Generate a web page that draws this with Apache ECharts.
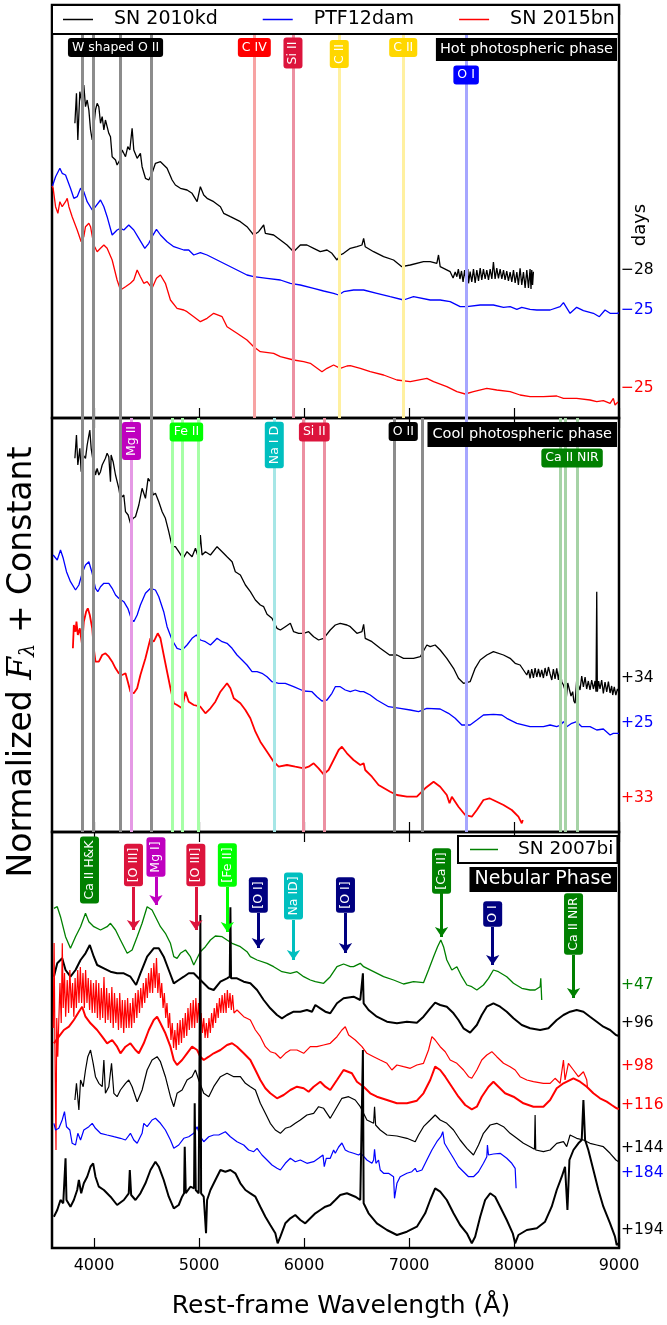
<!DOCTYPE html>
<html>
<head>
<meta charset="utf-8">
<script src="https://cdn.jsdelivr.net/npm/echarts@6/dist/echarts.min.js"></script>
<style>
  html, body { margin: 0; padding: 0; background: #fff; }
  #chart { width: 667px; height: 1325px; }
</style>
</head>
<body>
<div id="chart"></div>
<script>
// ---- data: wavelength (A), normalized flux + constant ----
var xTicks = [4000, 5000, 6000, 7000, 8000, 9000];

// Hot photospheric phase
var kdHot = [[3818,29.47],[3833,32.47],[3846,27.8],[3865,32.63],[3887,31.47],[3903,33.3],[3919,31.13],[3935,31.8],[3951,30.8],[3967,28.8],[3983,27.8],[3998,29.13],[4014,30.8],[4030,31.47],[4046,31.13],[4062,29.47],[4078,30.13],[4094,28.8],[4109,29.8],[4125,29.13],[4141,28.47],[4157,28.13],[4173,26.13],[4205,25.8],[4220,25.3],[4246,25.8],[4268,26.8],[4300,26.13],[4322,27.13],[4341,26.8],[4363,28.97],[4379,26.8],[4411,25.97],[4442,26.47],[4458,25.13],[4490,23.97],[4522,23.8],[4553,24.47],[4585,25.47],[4633,25.63],[4696,24.97],[4744,23.8],[4775,23.3],[4823,22.97],[4886,22.8],[4934,22.47],[4982,21.63],[5013,23.13],[5045,22.3],[5077,21.97],[5140,21.63],[5204,21.13],[5235,20.47],[5299,20.13],[5394,19.63],[5457,19.13],[5521,18.3],[5568,18.63],[5616,19.3],[5632,18.47],[5711,18.3],[5775,17.8],[5838,17.3],[5901,16.63],[5965,17.3],[6028,17.3],[6092,16.97],[6155,16.63],[6219,16.8],[6266,16.47],[6314,15.8],[6345,16.3],[6377,16.47],[6441,16.97],[6504,17.13],[6552,17.3],[6568,17.97],[6583,17.13],[6663,16.63],[6758,16.13],[6853,15.8],[6932,15.13],[7012,15.3],[7138,15.63],[7202,15.63],[7265,15.47],[7281,16.3],[7297,15.13],[7392,14.63],[7420,14.0],[7440,14.6],[7456,14.13],[7470,14.9],[7485,13.9],[7500,14.7],[7515,13.6],[7530,14.8],[7545,13.5],[7560,14.9],[7567,13.47],[7582,14.63],[7598,13.6],[7614,14.9],[7630,13.5],[7646,14.8],[7662,13.7],[7678,15.0],[7693,13.8],[7709,14.9],[7725,13.9],[7741,14.8],[7757,13.8],[7773,14.9],[7789,13.9],[7804,15.6],[7820,13.9],[7836,15.0],[7852,13.97],[7868,14.9],[7884,13.9],[7900,14.8],[7915,13.8],[7931,14.7],[7947,13.7],[7963,14.6],[7979,13.6],[7995,14.8],[8011,13.5],[8027,14.6],[8042,13.3],[8058,14.97],[8074,13.3],[8090,14.6],[8106,13.0],[8122,14.8],[8138,13.0],[8153,14.9],[8162,12.9],[8169,14.8],[8177,13.3],[8185,14.63]];
var pfHot = [[3602,23.13],[3634,24.13],[3675,24.97],[3697,24.47],[3729,24.3],[3745,24.13],[3776,22.97],[3808,21.97],[3840,22.13],[3872,22.97],[3903,22.63],[3935,21.63],[3983,20.8],[4014,21.13],[4062,21.8],[4094,21.13],[4125,20.13],[4173,18.3],[4220,18.8],[4252,18.97],[4284,18.8],[4331,19.3],[4379,18.8],[4427,17.97],[4484,16.97],[4522,17.47],[4553,18.13],[4595,18.87],[4633,18.3],[4696,17.63],[4760,17.13],[4855,16.8],[4902,16.8],[4950,16.3],[5013,16.53],[5077,16.3],[5172,15.8],[5267,15.3],[5362,14.8],[5457,14.3],[5521,14.13],[5648,13.97],[5775,13.8],[5870,13.47],[5965,13.3],[6092,12.97],[6187,12.7],[6282,12.47],[6330,12.3],[6377,12.63],[6472,12.8],[6568,12.8],[6694,12.47],[6821,12.13],[6948,11.8],[7043,12.13],[7202,11.8],[7297,11.8],[7392,11.63],[7487,11.13],[7551,11.13],[7678,11.3],[7804,11.3],[7900,11.07],[7963,11.13],[8027,10.87],[8074,11.07],[8153,10.87],[8217,10.8],[8344,10.8],[8439,11.13],[8471,11.53],[8534,10.47],[8597,11.07],[8661,10.73],[8756,10.47],[8813,10.13],[8867,10.8],[8915,10.47],[8978,10.47],[9000,10.5]];
var bnHot = [[3600,23.2],[3611,22.97],[3634,21.13],[3656,20.47],[3675,21.63],[3697,21.13],[3729,21.63],[3745,21.97],[3761,21.13],[3792,20.13],[3840,18.8],[3878,17.63],[3903,18.13],[3919,19.13],[3951,19.47],[3967,19.13],[3998,17.3],[4030,16.63],[4062,16.97],[4094,17.3],[4125,16.97],[4173,15.8],[4220,13.8],[4252,12.8],[4300,13.13],[4347,13.47],[4379,13.8],[4411,14.8],[4442,14.13],[4474,13.47],[4506,13.63],[4553,12.97],[4595,13.97],[4633,14.3],[4680,13.47],[4728,11.8],[4791,10.97],[4855,10.8],[4886,10.63],[4950,10.13],[5013,9.63],[5077,9.97],[5140,10.47],[5220,10.13],[5267,9.13],[5362,8.47],[5457,7.8],[5521,7.13],[5584,6.63],[5711,6.47],[5775,6.13],[5901,5.8],[5997,5.63],[6060,5.47],[6171,4.63],[6219,4.97],[6282,5.3],[6345,4.97],[6409,5.2],[6441,5.23],[6536,4.97],[6631,4.63],[6758,4.3],[6885,3.8],[7012,3.63],[7170,3.97],[7234,3.63],[7360,3.13],[7456,2.63],[7535,2.4],[7614,2.63],[7741,2.97],[7836,2.8],[7963,2.63],[8058,2.3],[8153,2.13],[8280,2.13],[8407,2.2],[8471,1.97],[8597,1.97],[8724,1.8],[8788,1.63],[8851,1.73],[8915,1.47],[8946,1.97],[8962,1.3],[8990,1.6]];

// Cool photospheric phase
var kdCool = [[3818,37.37],[3833,39.7],[3846,36.7],[3865,38.37],[3878,36.03],[3897,37.7],[3919,37.37],[3935,38.7],[3960,40.2],[3973,38.37],[3992,37.03],[4014,35.7],[4030,36.37],[4046,35.7],[4062,36.03],[4078,36.7],[4109,37.37],[4125,37.87],[4141,37.53],[4157,35.03],[4163,37.7],[4182,37.03],[4205,35.7],[4236,34.37],[4252,33.37],[4284,33.7],[4300,32.03],[4325,31.7],[4347,30.87],[4373,31.37],[4395,31.53],[4427,32.7],[4458,34.37],[4490,33.37],[4515,35.37],[4538,35.03],[4563,33.7],[4585,33.87],[4617,33.03],[4649,32.03],[4680,31.37],[4712,30.03],[4744,28.53],[4775,28.53],[4807,28.03],[4848,27.37],[4886,28.03],[4934,27.53],[4966,28.37],[4997,27.37],[5013,29.7],[5029,27.7],[5061,28.03],[5109,27.7],[5172,28.53],[5220,28.03],[5267,27.53],[5315,27.03],[5346,26.03],[5394,25.7],[5442,24.7],[5489,24.03],[5537,23.2],[5584,22.7],[5616,22.53],[5648,21.77],[5695,21.37],[5743,20.37],[5775,20.2],[5822,20.53],[5870,20.87],[5901,20.03],[5949,19.87],[5997,19.87],[6044,20.03],[6092,19.53],[6139,19.2],[6187,19.37],[6250,20.2],[6298,20.7],[6345,20.87],[6409,20.7],[6441,20.53],[6504,19.87],[6552,20.03],[6568,20.77],[6583,19.37],[6647,19.03],[6726,18.37],[6815,17.7],[6885,17.7],[6948,17.37],[7043,17.37],[7107,17.53],[7170,18.7],[7202,18.53],[7249,18.7],[7297,18.2],[7360,17.37],[7424,16.37],[7471,15.37],[7519,14.87],[7582,15.03],[7630,16.37],[7678,17.2],[7741,17.7],[7804,18.03],[7900,17.7],[7963,17.37],[8011,16.87],[8058,16.7],[8122,15.7],[8138,16.2],[8153,15.37],[8169,16.3],[8185,15.4],[8201,16.4],[8217,15.5],[8233,16.3],[8249,15.5],[8264,16.2],[8280,15.4],[8296,16.4],[8312,15.6],[8328,16.5],[8344,15.8],[8360,15.2],[8375,16.3],[8391,15.3],[8407,16.37],[8423,15.2],[8439,16.5],[8455,15.0],[8471,14.7],[8486,14.2],[8496,13.2],[8512,14.9],[8528,14.7],[8543,13.6],[8559,14.03],[8570,13.1],[8582,12.87],[8597,15.2],[8613,15.03],[8629,14.2],[8645,15.6],[8661,14.5],[8677,15.5],[8692,14.3],[8708,15.1],[8724,14.2],[8740,15.2],[8756,14.3],[8772,15.1],[8781,14.03],[8788,24.03],[8794,14.03],[8806,15.1],[8819,14.3],[8835,15.2],[8851,13.87],[8867,15.0],[8883,14.0],[8899,15.03],[8915,13.9],[8930,14.6],[8940,13.7],[8955,14.5],[8970,13.7],[8985,14.3],[9000,14.0]];
var pfCool = [[3611,27.7],[3650,27.2],[3681,28.2],[3707,27.37],[3738,26.03],[3776,25.03],[3824,24.2],[3856,24.7],[3887,25.87],[3919,26.7],[3951,27.03],[3983,25.87],[4014,24.37],[4036,24.03],[4062,24.53],[4094,24.87],[4141,24.87],[4173,24.37],[4205,23.7],[4236,23.37],[4284,23.03],[4322,22.37],[4354,21.37],[4379,21.03],[4411,21.7],[4442,22.7],[4490,23.87],[4538,24.37],[4585,24.2],[4617,23.53],[4664,22.03],[4696,20.53],[4744,19.2],[4791,18.37],[4839,18.2],[4886,18.7],[4934,19.37],[4975,19.7],[5013,19.2],[5061,19.03],[5109,18.7],[5140,19.03],[5172,19.37],[5220,19.03],[5267,18.87],[5315,18.37],[5362,17.7],[5410,17.2],[5457,16.7],[5505,16.03],[5553,16.03],[5600,15.87],[5648,15.53],[5695,15.03],[5759,14.87],[5822,14.87],[5901,14.53],[5997,14.1],[6076,14.03],[6123,13.53],[6171,13.1],[6219,13.2],[6266,13.87],[6298,14.53],[6345,14.53],[6393,14.2],[6441,14.03],[6488,14.2],[6536,14.03],[6568,14.03],[6631,13.7],[6694,13.2],[6805,12.53],[6916,12.37],[7012,12.2],[7091,12.03],[7170,12.37],[7297,12.3],[7376,11.87],[7440,11.37],[7503,10.7],[7582,10.7],[7646,11.2],[7709,11.7],[7804,11.77],[7884,11.7],[7931,11.37],[8027,10.87],[8153,10.53],[8280,10.53],[8344,10.7],[8407,10.53],[8445,10.7],[8471,11.03],[8502,10.53],[8550,10.87],[8597,11.03],[8645,10.53],[8724,10.53],[8788,10.2],[8851,10.3],[8915,9.7],[8946,9.87],[9000,9.87]];
var bnCool = [[3799,18.37],[3808,20.7],[3824,20.03],[3833,21.03],[3846,19.7],[3865,20.37],[3878,19.37],[3887,18.7],[3903,21.03],[3925,22.03],[3941,22.37],[3960,21.7],[3983,20.37],[3998,18.37],[4014,17.03],[4046,17.03],[4078,17.7],[4109,17.87],[4141,17.53],[4173,17.03],[4205,16.37],[4236,15.87],[4268,15.7],[4300,15.87],[4322,15.03],[4347,14.03],[4379,13.87],[4411,14.37],[4442,15.7],[4490,17.37],[4538,19.37],[4569,19.03],[4607,19.87],[4633,19.37],[4664,17.7],[4696,16.03],[4728,14.37],[4760,12.87],[4791,12.7],[4839,12.37],[4871,14.03],[4902,13.03],[4950,12.7],[5013,12.53],[5061,11.87],[5109,12.37],[5156,13.03],[5204,14.03],[5267,14.87],[5299,14.37],[5331,13.37],[5394,12.87],[5442,12.2],[5489,11.37],[5537,10.03],[5584,9.03],[5648,8.03],[5711,7.03],[5759,6.53],[5838,6.7],[5917,6.53],[5997,6.37],[6044,6.53],[6092,6.87],[6139,6.37],[6187,5.77],[6234,6.2],[6282,7.2],[6330,8.2],[6361,8.53],[6409,7.87],[6472,7.2],[6536,6.7],[6552,6.53],[6568,6.87],[6583,6.2],[6647,5.53],[6710,4.7],[6821,4.03],[6885,3.7],[6980,3.53],[7075,3.53],[7154,4.37],[7234,5.03],[7297,4.53],[7360,3.7],[7386,2.87],[7408,3.53],[7471,2.53],[7535,1.7],[7598,1.53],[7646,2.2],[7709,3.2],[7766,3.37],[7836,3.03],[7900,2.7],[7979,2.2],[8042,1.53],[8074,0.87],[8084,1.2]];

// Nebular phase
var bi47 = [[3618,33.97],[3650,34.13],[3681,33.13],[3729,31.13],[3776,29.97],[3824,31.13],[3872,32.13],[3919,33.47],[3951,32.63],[3998,32.13],[4062,31.8],[4125,32.13],[4157,32.47],[4205,31.8],[4252,30.8],[4316,29.47],[4363,29.8],[4411,31.13],[4458,32.47],[4506,34.13],[4553,33.8],[4585,33.13],[4633,32.13],[4680,31.47],[4728,30.47],[4760,29.13],[4791,28.97],[4823,29.47],[4871,29.8],[4918,29.13],[4950,28.3],[4982,28.97],[5013,29.63],[5061,30.13],[5109,30.8],[5156,31.2],[5220,31.13],[5267,30.8],[5315,30.47],[5394,30.13],[5457,29.63],[5489,29.13],[5553,28.8],[5648,28.47],[5711,28.13],[5790,27.63],[5870,27.47],[5933,27.63],[5997,27.13],[6060,26.8],[6108,26.63],[6187,26.47],[6250,27.13],[6314,28.13],[6377,28.4],[6441,28.13],[6472,28.13],[6536,28.47],[6568,28.13],[6663,27.63],[6758,27.13],[6853,26.8],[6948,26.4],[7043,26.63],[7138,26.53],[7186,27.8],[7234,29.13],[7272,30.13],[7303,30.8],[7329,30.13],[7360,28.8],[7408,27.8],[7456,28.13],[7503,27.13],[7551,26.3],[7598,26.13],[7646,25.8],[7709,26.3],[7757,26.97],[7804,27.8],[7852,27.63],[7931,27.13],[7995,26.47],[8074,25.97],[8153,25.8],[8201,25.8],[8249,26.13],[8255,26.97],[8264,24.8]];
var kd96 = [[3618,27.13],[3650,28.47],[3697,28.97],[3729,27.8],[3776,27.13],[3824,27.8],[3872,28.8],[3919,29.47],[3960,30.3],[3998,29.13],[4030,28.3],[4094,27.97],[4157,27.63],[4220,27.47],[4284,27.47],[4347,27.13],[4401,26.3],[4442,27.47],[4506,29.13],[4569,29.97],[4617,29.97],[4664,29.13],[4712,27.8],[4760,26.47],[4807,26.8],[4855,27.13],[4902,27.47],[4950,27.47],[4997,26.97],[5045,26.47],[5093,25.97],[5140,25.8],[5204,26.63],[5267,26.97],[5293,27.13],[5299,34.07],[5305,26.97],[5362,26.97],[5426,26.63],[5489,26.47],[5553,25.8],[5616,24.8],[5679,23.97],[5743,23.3],[5790,22.97],[5838,23.3],[5901,23.63],[5965,23.63],[6028,23.8],[6076,23.63],[6108,24.3],[6155,23.97],[6203,23.63],[6250,23.47],[6314,24.47],[6377,24.97],[6472,25.13],[6536,24.8],[6555,24.73],[6561,27.47],[6568,24.47],[6615,23.8],[6694,23.13],[6790,22.63],[6885,22.47],[6980,22.63],[7075,22.53],[7138,23.13],[7202,23.97],[7249,24.53],[7297,24.3],[7360,24.13],[7424,23.47],[7471,22.8],[7519,21.97],[7582,21.53],[7646,22.3],[7693,23.3],[7741,24.13],[7804,24.47],[7868,24.13],[7931,23.63],[7995,22.97],[8074,22.3],[8153,21.97],[8249,21.8],[8328,21.97],[8407,22.8],[8471,23.3],[8534,23.63],[8597,23.8],[8661,23.63],[8724,23.13],[8788,22.63],[8851,22.13],[8915,21.8],[8971,21.3],[9000,21.2]];
var bn98 = [[3612,22.0],[3620,30.5],[3628,20.0],[3638,9.8],[3645,23.0],[3655,19.13],[3665,22.8],[3676,26.5],[3688,22.5],[3698,30.47],[3707,24.0],[3719,27.5],[3730,23.13],[3745,26.8],[3758,23.5],[3770,27.8],[3784,24.0],[3796,26.5],[3808,23.13],[3820,27.0],[3832,24.0],[3845,27.8],[3857,24.5],[3870,28.1],[3882,24.5],[3895,27.5],[3908,24.0],[3920,27.8],[3933,24.5],[3945,27.0],[3958,23.8],[3970,26.8],[3983,23.5],[3995,26.5],[4008,23.5],[4020,26.8],[4033,23.0],[4045,26.5],[4058,22.8],[4070,26.0],[4083,23.0],[4095,27.1],[4108,22.5],[4120,26.0],[4133,22.8],[4145,25.5],[4158,22.5],[4170,26.1],[4183,22.0],[4195,25.5],[4208,22.5],[4220,25.0],[4233,21.8],[4245,25.5],[4258,22.0],[4270,24.8],[4283,21.5],[4295,24.8],[4308,22.0],[4320,25.0],[4333,22.0],[4345,24.5],[4358,22.0],[4370,25.0],[4383,22.5],[4395,25.5],[4408,23.0],[4420,25.8],[4433,23.5],[4445,26.0],[4458,24.0],[4470,26.5],[4483,24.5],[4495,27.0],[4508,25.0],[4520,27.5],[4533,25.5],[4545,28.0],[4558,25.5],[4570,28.5],[4583,26.0],[4595,29.0],[4608,25.5],[4620,27.5],[4633,25.0],[4645,26.5],[4658,24.0],[4670,25.5],[4683,23.0],[4695,24.5],[4708,22.0],[4720,23.5],[4733,20.8],[4745,22.5],[4758,20.0],[4770,21.8],[4783,19.8],[4795,22.5],[4808,20.3],[4820,22.8],[4833,20.5],[4845,23.0],[4858,21.0],[4870,23.5],[4883,21.2],[4895,24.0],[4908,21.8],[4920,24.5],[4933,22.0],[4945,24.8],[4958,22.0],[4970,25.0],[4983,22.5],[4995,24.5],[5008,22.0],[5020,23.5],[5033,21.5],[5045,23.0],[5058,21.0],[5070,22.5],[5083,21.0],[5095,23.0],[5108,21.5],[5120,23.5],[5133,22.0],[5145,24.0],[5158,22.5],[5170,24.5],[5183,23.0],[5195,25.0],[5208,23.5],[5220,25.3],[5233,23.5],[5245,25.5],[5258,23.5],[5270,25.8],[5283,24.0],[5295,25.5],[5308,23.8],[5320,25.3],[5333,23.5],[5362,23.8],[5426,23.13],[5489,22.8],[5537,21.8],[5584,21.13],[5632,20.13],[5679,19.63],[5727,19.47],[5775,18.97],[5822,19.47],[5870,19.8],[5933,19.8],[5997,19.47],[6060,20.13],[6123,20.13],[6187,20.3],[6250,20.47],[6314,21.13],[6361,21.8],[6393,22.13],[6425,21.3],[6488,20.8],[6552,20.13],[6599,19.47],[6663,19.13],[6726,18.8],[6790,18.47],[6837,17.8],[6885,18.3],[6948,18.13],[7012,17.97],[7075,18.3],[7138,18.47],[7186,19.8],[7218,21.13],[7249,20.8],[7297,20.13],[7345,19.63],[7392,18.8],[7456,18.47],[7519,17.8],[7567,17.13],[7598,16.97],[7646,17.8],[7693,18.8],[7741,19.3],[7789,19.63],[7836,19.13],[7900,18.47],[7963,18.13],[8011,17.8],[8058,17.13],[8122,16.8],[8185,16.63],[8280,16.47],[8344,16.47],[8391,16.97],[8439,16.47],[8471,18.8],[8486,16.8],[8518,18.47],[8566,17.8],[8613,17.13],[8661,17.63],[8693,16.8],[8699,16.13]];
var bn116 = [[3618,20.47],[3665,21.13],[3713,21.8],[3761,22.13],[3808,22.8],[3856,23.63],[3887,24.13],[3919,23.13],[3967,22.47],[4030,21.8],[4078,21.13],[4125,20.47],[4173,20.8],[4220,20.13],[4252,19.47],[4300,20.13],[4347,20.47],[4395,19.8],[4427,19.47],[4474,20.47],[4522,21.8],[4569,22.8],[4601,23.13],[4633,22.47],[4680,21.47],[4728,20.13],[4760,18.8],[4791,18.3],[4839,18.8],[4886,19.47],[4934,20.13],[4982,19.8],[5013,19.13],[5045,18.8],[5093,19.13],[5140,19.47],[5204,19.8],[5267,20.3],[5315,20.47],[5362,20.13],[5426,19.47],[5489,18.8],[5537,17.8],[5584,16.8],[5632,15.97],[5679,15.47],[5743,14.97],[5806,15.3],[5870,15.8],[5933,16.13],[5997,15.97],[6044,15.63],[6092,16.13],[6155,16.63],[6203,16.13],[6250,15.8],[6314,16.8],[6377,17.8],[6456,17.47],[6504,16.63],[6568,16.13],[6631,15.47],[6694,15.13],[6790,14.8],[6885,14.47],[6980,14.47],[7075,14.73],[7138,15.47],[7202,16.8],[7249,18.13],[7297,17.8],[7345,17.13],[7408,16.13],[7471,15.13],[7535,14.3],[7598,13.87],[7646,14.13],[7693,15.13],[7757,16.13],[7804,16.63],[7852,16.13],[7915,15.47],[7995,15.13],[8090,14.47],[8185,14.13],[8280,14.13],[8344,14.8],[8407,15.97],[8471,16.47],[8566,16.97],[8629,16.63],[8693,16.13],[8756,15.47],[8819,14.97],[8883,14.63],[8930,14.3],[8978,13.97],[9000,13.9]];
var kd144 = [[3818,14.8],[3833,16.47],[3856,13.8],[3872,16.8],[3897,16.13],[3919,17.8],[3941,19.13],[3967,19.8],[3992,18.47],[4014,17.13],[4046,16.47],[4078,16.13],[4094,18.8],[4109,15.47],[4141,16.13],[4167,18.47],[4189,15.47],[4220,15.13],[4252,15.8],[4300,16.47],[4331,16.8],[4363,16.13],[4411,14.63],[4458,15.8],[4506,17.8],[4553,18.8],[4601,19.13],[4633,18.63],[4680,17.13],[4728,15.13],[4760,14.13],[4791,15.47],[4839,15.8],[4886,16.8],[4934,17.13],[4966,17.8],[4997,16.8],[5045,15.47],[5093,15.13],[5140,16.13],[5204,17.13],[5267,17.47],[5331,17.13],[5394,17.13],[5442,16.47],[5489,16.13],[5537,15.8],[5584,14.47],[5632,13.47],[5679,12.47],[5727,11.8],[5775,11.47],[5822,11.97],[5870,12.13],[5917,12.47],[5965,12.8],[6028,13.3],[6092,13.47],[6139,14.13],[6187,13.97],[6250,12.97],[6314,14.13],[6361,14.97],[6425,15.13],[6488,14.8],[6536,14.13],[6599,12.8],[6663,12.47],[6672,14.13],[6682,12.3],[6726,11.8],[6790,11.3],[6885,11.2],[6980,10.97],[7059,10.63],[7091,11.3],[7138,12.13],[7202,12.8],[7249,13.3],[7297,12.8],[7360,12.47],[7424,11.8],[7487,10.8],[7551,9.97],[7614,9.3],[7662,10.3],[7709,11.47],[7773,12.3],[7836,12.47],[7900,12.13],[7963,11.47],[8027,10.97],[8090,10.47],[8153,10.13],[8195,9.87],[8201,13.3],[8207,9.8],[8280,9.63],[8344,9.8],[8407,10.47],[8471,10.63],[8502,10.13],[8534,11.3],[8597,10.97],[8661,10.8],[8724,10.47],[8788,10.3],[8851,10.13],[8915,9.47],[8971,8.8],[9000,8.6]];
var pf184 = [[3618,12.47],[3634,11.8],[3665,11.97],[3697,12.8],[3719,13.63],[3738,12.13],[3770,11.8],[3792,10.47],[3824,10.3],[3846,11.47],[3872,10.8],[3903,11.8],[3951,12.13],[3983,12.47],[4014,11.97],[4062,11.47],[4125,11.3],[4189,11.13],[4252,10.97],[4300,10.8],[4347,11.47],[4379,10.8],[4411,10.47],[4458,11.47],[4474,12.47],[4506,12.13],[4553,12.8],[4585,12.97],[4633,12.47],[4680,11.8],[4728,10.8],[4760,9.97],[4807,10.3],[4855,10.97],[4902,11.13],[4950,11.47],[4982,12.13],[5013,11.13],[5045,10.63],[5093,11.13],[5140,11.3],[5188,11.3],[5251,11.63],[5299,11.13],[5362,10.63],[5426,10.3],[5473,9.8],[5521,9.63],[5553,9.97],[5600,9.3],[5648,8.8],[5695,8.3],[5743,7.97],[5775,7.8],[5822,8.47],[5870,8.97],[5917,8.63],[5965,8.8],[6028,8.47],[6092,8.63],[6139,8.97],[6181,9.3],[6193,8.13],[6212,8.97],[6250,8.97],[6282,9.8],[6298,9.47],[6330,10.1],[6361,10.5],[6393,9.8],[6425,9.63],[6472,9.47],[6520,9.3],[6542,9.47],[6599,8.8],[6647,8.47],[6663,8.8],[6672,9.87],[6685,8.47],[6710,8.8],[6726,7.8],[6758,7.47],[6805,7.47],[6853,7.13],[6862,4.97],[6885,6.47],[6916,7.13],[6980,7.47],[7027,7.63],[7059,7.97],[7075,7.63],[7123,7.8],[7170,8.8],[7218,9.8],[7265,10.63],[7303,11.13],[7322,11.63],[7338,10.47],[7376,9.8],[7424,8.97],[7471,8.13],[7519,7.63],[7567,7.13],[7614,7.13],[7662,7.63],[7709,8.47],[7741,9.13],[7747,10.3],[7757,9.3],[7804,9.4],[7868,9.47],[7931,8.97],[7979,8.47],[8011,7.97],[8020,5.97]];
var kd194 = [[3618,3.13],[3650,3.8],[3681,4.8],[3707,4.47],[3729,8.97],[3738,4.8],[3776,4.13],[3808,4.8],[3840,5.8],[3856,6.8],[3878,5.47],[3903,6.47],[3935,7.13],[3967,8.13],[3992,8.47],[4014,7.13],[4046,6.13],[4094,5.8],[4157,5.13],[4220,4.3],[4284,4.8],[4331,5.47],[4341,7.8],[4354,5.3],[4395,4.8],[4442,5.47],[4490,6.47],[4538,7.8],[4585,8.63],[4617,8.13],[4664,6.8],[4712,5.13],[4760,3.97],[4807,4.3],[4839,5.13],[4858,5.47],[4864,10.13],[4874,5.47],[4918,6.13],[4953,5.97],[4959,14.47],[4969,5.8],[4997,5.47],[5007,5.63],[5013,33.3],[5020,5.47],[5045,5.13],[5067,1.47],[5077,4.8],[5109,5.8],[5156,6.8],[5204,7.8],[5251,7.63],[5299,7.8],[5346,7.47],[5394,6.47],[5442,5.8],[5489,5.47],[5537,5.13],[5584,4.13],[5632,3.13],[5679,2.3],[5727,1.47],[5749,0.47],[5775,1.13],[5822,2.47],[5870,2.97],[5917,3.3],[5965,2.8],[6012,2.47],[6060,2.97],[6108,3.47],[6155,3.8],[6203,4.13],[6250,4.3],[6298,4.8],[6345,5.3],[6409,5.47],[6488,5.13],[6536,4.8],[6552,4.63],[6561,19.8],[6568,4.47],[6615,3.47],[6694,2.47],[6790,1.8],[6885,1.3],[6980,1.63],[7075,2.13],[7154,3.47],[7202,4.8],[7249,5.97],[7297,5.63],[7360,4.8],[7424,3.47],[7487,2.3],[7551,1.47],[7598,0.47],[7630,1.13],[7678,3.13],[7725,4.8],[7773,5.47],[7820,5.13],[7868,4.13],[7931,2.8],[7988,1.47],[8011,0.47],[8042,1.3],[8122,1.8],[8217,1.97],[8296,2.63],[8359,4.13],[8407,5.8],[8455,7.13],[8486,8.13],[8509,3.8],[8528,8.8],[8566,9.8],[8613,10.47],[8645,10.8],[8661,14.8],[8677,10.8],[8708,9.8],[8756,7.8],[8804,5.8],[8851,4.13],[8915,2.47],[8962,1.13],[8978,0.3],[9000,0.5]];

// line identifications: vertical marker lines (wavelength, ion)
var hotLineWl  = [3891, 3995, 4247, 4547, 5527, 5895, 6336, 6945, 7544];
var hotLineIon = ['O II', 'O II', 'O II', 'O II', 'C IV', 'Si II', 'C II', 'C II', 'O I'];
var coolLineWl  = [3891, 3995, 4247, 4547, 4357, 4747, 4842, 4994, 5717, 5993, 6193, 6860, 7127, 7544, 8439, 8486, 8600];
var coolLineIon = ['O II', 'O II', 'O II', 'O II', 'Mg II', 'Fe II', 'Fe II', 'Fe II', 'Na I D', 'Si II', 'Si II', 'O II', 'O II', 'O I', 'Ca II', 'Ca II', 'Ca II'];

// label boxes: text, wavelength, level
var hotLabels   = ['W shaped O II', 'C IV', 'Si II', 'C II', 'C II', 'O I'];
var hotLabelWl  = [4205, 5527, 5895, 6336, 6945, 7544];
var hotLabelLv  = [37.05, 37.05, 36.5, 36.4, 37.05, 34.3];
var coolLabels  = ['Mg II', 'Fe II', 'Na I D', 'Si II', 'O II', 'Ca II NIR'];
var coolLabelWl = [4357, 4880, 5717, 6098, 6945, 8553];
var coolLabelLv = [39.1, 40.0, 38.7, 40.0, 40.05, 37.4];
var nebLabels   = ['Ca II H&K', '[O III]', 'Mg I]', '[O III]', '[Fe II]', '[O I]', 'Na ID]', '[O I]', '[Ca II]', 'O I', 'Ca II NIR'];
var nebLabelWl  = [3957, 4376, 4590, 4970, 5270, 5565, 5900, 6395, 7310, 7797, 8567];
var nebLabelLv  = [37.8, 38.3, 39.1, 38.3, 38.3, 35.3, 35.2, 35.3, 37.7, 33.4, 32.4];
// arrows below the nebular labels: [from, to] levels (Ca II H&K has none)
var nebArrowFrom = [null, 36.1, 37.1, 36.1, 36.1, 33.5, 32.8, 33.5, 35.5, 32.1, 29.3];
var nebArrowTo   = [null, 31.8, 34.3, 31.8, 31.6, 30.0, 28.8, 29.5, 31.1, 28.3, 25.0];

// epochs (days) written at the right edge
var hotDays   = ['\u221228', '\u221225', '\u221225'];
var hotDayLv  = [14.8, 10.8, 3.0];
var coolDays  = ['+34', '+25', '+33'];
var coolDayLv = [15.4, 10.9, 3.4];
var nebDays   = ['+47', '+96', '+98', '+116', '+144', '+184', '+194'];
var nebDayLv  = [26.3, 22.5, 18.2, 14.3, 10.0, 7.5, 1.8];

// ---- styling ----
var FONT = 'DejaVu Sans';
var BLACK = '#000000', BLUE = '#0000ff', RED = '#ff0000', GREEN = '#008000';
var hotDayColor  = [BLACK, BLUE, RED];
var coolDayColor = [BLACK, BLUE, RED];
var nebDayColor  = [GREEN, BLACK, RED, RED, BLACK, BLUE, BLACK];

var ionLine = {
  'O II': '#8c8c8c', 'C IV': '#f7a3a3', 'Si II': '#ec90a2', 'C II': '#fff0a0',
  'O I': '#a6a6ff', 'Mg II': '#e599e5', 'Fe II': '#a6ffa6', 'Na I D': '#a6e6e6',
  'Ca II': '#a6d3a6'
};
var boxColor = {
  'W shaped O II': '#000000', 'C IV': '#ff0000', 'Si II': '#dc143c', 'C II': '#ffd700',
  'O I': '#0000ff', 'Mg II': '#bf00bf', 'Fe II': '#00ff00', 'Na I D': '#00bfbf',
  'O II': '#000000', 'Ca II NIR': '#008000'
};
var nebBoxColor = ['#008000', '#dc143c', '#bf00bf', '#dc143c', '#00ff00', '#000080', '#00bfbf', '#000080', '#008000', '#000080', '#008000'];
var hotRot  = [0, 0, 90, 90, 0, 0];
var coolRot = [90, 0, 90, 0, 0, 0];

var grids = [
  { left: 52, right: 48, top: 5, height: 413 },
  { left: 52, right: 48, top: 418, height: 414 },
  { left: 52, right: 48, top: 832, height: 416 }
];
var yMax = [41.3, 41.4, 41.6];
var dayText = [hotDays, coolDays, nebDays];
var dayLv = [hotDayLv, coolDayLv, nebDayLv];
var dayColor = [hotDayColor, coolDayColor, nebDayColor];

var xAxis = [], yAxis = [];
grids.forEach(function (g, i) {
  ['bottom', 'top'].forEach(function (pos) {
    xAxis.push({
      type: 'value', gridIndex: i, position: pos, min: 3600, max: 9000,
      axisLine: { show: false }, splitLine: { show: false },
      axisTick: { show: true, inside: true, length: 10, customValues: xTicks, lineStyle: { color: '#000', width: 1.2 } },
      axisLabel: {
        show: i === 2 && pos === 'bottom', customValues: xTicks, fontSize: 16, color: '#000',
        fontFamily: FONT, margin: 10, formatter: function (v) { return String(v); }
      }
    });
  });
  var rich = {};
  dayColor[i].forEach(function (c, k) { rich['c' + k] = { color: c, fontSize: 15.5, fontFamily: FONT }; });
  yAxis.push({
    type: 'value', gridIndex: i, position: 'right', min: 0, max: yMax[i],
    axisLine: { show: false }, axisTick: { show: false }, splitLine: { show: false },
    axisLabel: {
      show: true, customValues: dayLv[i], margin: 2, fontFamily: FONT, fontSize: 15.5,
      formatter: function (v) {
        var k = dayLv[i].indexOf(v);
        return k < 0 ? '' : '{c' + k + '|' + dayText[i][k] + '}';
      },
      rich: rich
    }
  });
});

function spec(name, data, panel, color, width) {
  return {
    type: 'line', name: name, data: data, xAxisIndex: panel * 2, yAxisIndex: panel,
    showSymbol: false, symbol: 'none', silent: true, z: 3,
    lineStyle: { color: color, width: width }, itemStyle: { color: color }
  };
}

function markerLines(panel, wl, ion) {
  return {
    type: 'line', data: [], xAxisIndex: panel * 2, yAxisIndex: panel, silent: true, z: 1,
    markLine: {
      silent: true, symbol: 'none', label: { show: false }, animation: false,
      data: wl.map(function (w, k) {
        return { xAxis: w, lineStyle: { color: ionLine[ion[k]], width: 3, type: 'solid', opacity: 1 } };
      })
    }
  };
}

function labelBoxes(panel, texts, wl, lv, colors, rots, size) {
  return {
    type: 'scatter', xAxisIndex: panel * 2, yAxisIndex: panel, symbolSize: 0, silent: true, z: 10,
    itemStyle: { opacity: 1 },
    data: texts.map(function (t, k) {
      return {
        value: [wl[k], lv[k]],
        label: { show: true, formatter: t, rotate: rots[k], backgroundColor: colors[k] }
      };
    }),
    label: {
      show: true, position: 'inside', color: '#fff', fontSize: size, fontFamily: FONT,
      padding: [3, 4, 3, 4], borderRadius: 3, opacity: 1
    }
  };
}

var nebArrows = {
  type: 'line', data: [], xAxisIndex: 4, yAxisIndex: 2, silent: true, z: 8,
  markLine: {
    silent: true, animation: false, label: { show: false }, symbolSize: 10,
    data: nebLabelWl.map(function (w, k) {
      if (nebArrowFrom[k] === null) return null;
      return [
        { coord: [w, nebArrowFrom[k]], symbol: 'none', lineStyle: { color: nebBoxColor[k], width: 3, type: 'solid', opacity: 1 } },
        { coord: [w, nebArrowTo[k]], symbol: 'arrow' }
      ];
    }).filter(function (d) { return d !== null; })
  }
};

var series = [
  markerLines(0, hotLineWl, hotLineIon),
  markerLines(1, coolLineWl, coolLineIon),
  spec('SN 2010kd', kdHot, 0, BLACK, 1.3),
  spec('PTF12dam', pfHot, 0, BLUE, 1.3),
  spec('SN 2015bn', bnHot, 0, RED, 1.3),
  spec('SN 2010kd', kdCool, 1, BLACK, 1.3),
  spec('PTF12dam', pfCool, 1, BLUE, 1.3),
  spec('SN 2015bn', bnCool, 1, RED, 1.8),
  spec('SN 2007bi', bi47, 2, GREEN, 1.3),
  spec('SN 2010kd', kd96, 2, BLACK, 2),
  spec('SN 2015bn', bn98, 2, RED, 1.2),
  spec('SN 2015bn', bn116, 2, RED, 2),
  spec('SN 2010kd', kd144, 2, BLACK, 1.2),
  spec('PTF12dam', pf184, 2, BLUE, 1.2),
  spec('SN 2010kd', kd194, 2, BLACK, 2),
  nebArrows,
  labelBoxes(0, hotLabels, hotLabelWl, hotLabelLv, hotLabels.map(function (t) { return boxColor[t]; }), hotRot, 12.5),
  labelBoxes(1, coolLabels, coolLabelWl, coolLabelLv, coolLabels.map(function (t) { return boxColor[t]; }), coolRot, 12.5),
  labelBoxes(2, nebLabels, nebLabelWl, nebLabelLv, nebBoxColor, nebLabels.map(function () { return 90; }), 12.5)
];

var chart = echarts.init(document.getElementById('chart'), null, { renderer: 'canvas' });
chart.setOption({
  animation: false,
  backgroundColor: '#fff',
  textStyle: { fontFamily: FONT },
  grid: grids.map(function (g) {
    return Object.assign({ show: true, borderColor: '#000', borderWidth: 2.5, backgroundColor: 'transparent' }, g);
  }),
  xAxis: xAxis,
  yAxis: yAxis,
  legend: [{
    data: ['SN 2010kd', 'PTF12dam', 'SN 2015bn'], left: 52, top: 5, orient: 'horizontal',
    icon: 'rect', itemWidth: 30, itemHeight: 1.5, itemGap: 45, selectedMode: false,
    padding: [5, 4, 5, 11], backgroundColor: '#fff', borderColor: '#000', borderWidth: 2, z: 20,
    textStyle: { fontSize: 19, color: '#000', fontFamily: FONT, padding: [0, 0, 0, 16] }
  }, {
    data: ['SN 2007bi'], left: 458, top: 836, orient: 'horizontal',
    icon: 'rect', itemWidth: 28, itemHeight: 1.5, selectedMode: false,
    padding: [4, 4, 4, 12], backgroundColor: '#fff', borderColor: '#000', borderWidth: 2, z: 20,
    textStyle: { fontSize: 18.5, color: '#000', fontFamily: FONT, padding: [0, 0, 0, 15] }
  }],
  title: [{
    text: 'Hot photospheric phase', right: 50, top: 38, backgroundColor: '#000', padding: [4, 4],
    textStyle: { color: '#fff', fontSize: 14.5, fontWeight: 'normal', fontFamily: FONT }
  }, {
    text: 'Cool photospheric phase', right: 50, top: 422, backgroundColor: '#000', padding: [5, 5],
    textStyle: { color: '#fff', fontSize: 14.5, fontWeight: 'normal', fontFamily: FONT }
  }, {
    text: 'Nebular Phase', right: 50, top: 867, backgroundColor: '#000', padding: [3, 5],
    textStyle: { color: '#fff', fontSize: 19, fontWeight: 'normal', fontFamily: FONT }
  }],
  graphic: [{
    type: 'text', x: 341, y: 1306, silent: true,
    style: { text: 'Rest-frame Wavelength (\u00c5)', fontSize: 25, fontFamily: FONT, fill: '#000', align: 'center', verticalAlign: 'middle' }
  }, {
    type: 'text', x: 22, y: 662, rotation: Math.PI / 2, silent: true,
    style: {
      text: '{a|Normalized }{b|F}{c|\u03bb}{a| + Constant}', align: 'center', verticalAlign: 'middle', fill: '#000',
      rich: {
        a: { fontSize: 33, fontFamily: FONT, fill: '#000' },
        b: { fontSize: 33, fontFamily: 'DejaVu Serif', fontStyle: 'italic', fill: '#000' },
        c: { fontSize: 21, fontFamily: 'DejaVu Serif', fontStyle: 'italic', fill: '#000', verticalAlign: 'bottom', padding: [13, 0, 0, 0] }
      }
    }
  }, {
    type: 'text', x: 640, y: 225, rotation: Math.PI / 2, silent: true,
    style: { text: 'days', fontSize: 18, fontFamily: FONT, fill: '#000', align: 'center', verticalAlign: 'middle' }
  }],
  series: series
});
</script>
</body>
</html>
